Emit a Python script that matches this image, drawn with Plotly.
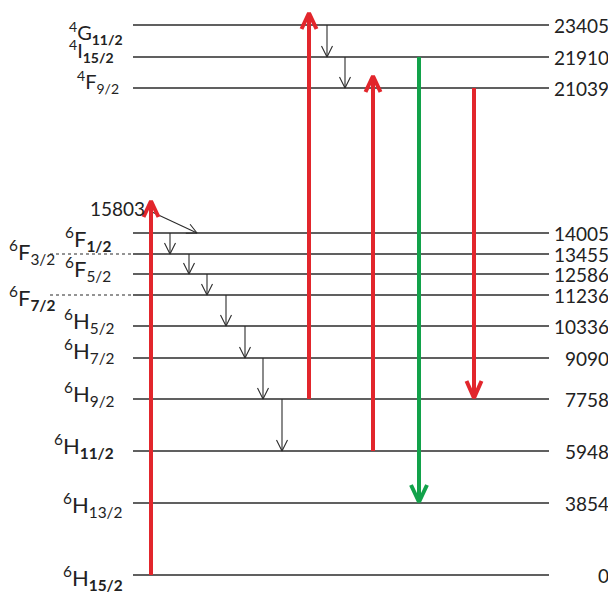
import plotly.graph_objects as go
import math

# ---- data ----
energies = [23405, 21910, 21039, 14005, 13455, 12586, 11236, 10336, 9090, 7758, 5948, 3854, 0]
terms = [
    "<sup>4</sup>G<sub><b>11/2</b></sub>",
    "<sup>4</sup>I<sub><b>15/2</b></sub>",
    "<sup>4</sup>F<sub>9/2</sub>",
    "<sup>6</sup>F<sub><b>1/2</b></sub>",
    "<sup>6</sup>F<sub>3/2</sub>",
    "<sup>6</sup>F<sub>5/2</sub>",
    "<sup>6</sup>F<sub><b>7/2</b></sub>",
    "<sup>6</sup>H<sub>5/2</sub>",
    "<sup>6</sup>H<sub>7/2</sub>",
    "<sup>6</sup>H<sub>9/2</sub>",
    "<sup>6</sup>H<sub><b>11/2</b></sub>",
    "<sup>6</sup>H<sub>13/2</sub>",
    "<sup>6</sup>H<sub><b>15/2</b></sub>",
]
# schematic (not-to-scale) heights of the levels in the diagram
level_height = [550, 518, 487, 342, 321, 301, 280, 249, 217, 176, 124, 72, 0]
virtual_level = 15803
virtual_height = 362

# transitions: (from energy, to energy)
excitations = [(0, 15803), (7758, 23405), (5948, 21039)]
green_emission = [(21910, 3854)]
red_emission = [(21039, 7758)]
relaxations = [(15803, 14005), (14005, 13455), (13455, 12586), (12586, 11236), (11236, 10336),
               (10336, 9090), (9090, 7758), (7758, 5948), (23405, 21910), (21910, 21039)]

# ---- layout constants ----
X0, X1 = 133, 549
dotted_levels = [13455, 11236]
label_x = [125, 116, 121, 113, 57, 113, 57, 117, 117, 117, 116, 125, 125]
label_dy = [-8, 6, 6, -6, 2, 5, -3, 5, 7, 5, 5, -2, -3]
exc_x = [151, 309, 373]
green_x = [419]
red_em_x = [474]
relax_x = [(152, 197), 170, 189, 207, 226, 245, 263, 282, 327, 345]
OVERSHOOT = 12
PAGE_MARGIN = 8  # default browser body margin

hmap = dict(zip(energies, level_height))
hmap[virtual_level] = virtual_height

RED = "#e2262c"
GREEN = "#12a24a"
BLACK = "#2b2b2b"


def arrow(xs, ys, xe, ye, L, W):
    dx, dy = xe - xs, ye - ys
    n = math.hypot(dx, dy)
    ux, uy = dx / n, dy / n
    px, py = -uy, ux
    shaft = [(xs, ys), (xe, ye), (None, None)]
    head = [(xe - L * ux + W * px, ye - L * uy + W * py), (xe, ye),
            (xe - L * ux - W * px, ye - L * uy - W * py), (None, None)]
    return shaft + head


fig = go.Figure()

# level lines
lx, ly = [], []
for e in energies:
    lx += [X0, X1, None]
    ly += [hmap[e], hmap[e], None]
fig.add_trace(go.Scatter(x=lx, y=ly, mode="lines", line=dict(color=BLACK, width=1.6), hoverinfo="skip"))

dx_, dy_ = [], []
for e in dotted_levels:
    dx_ += [50, X0, None]
    dy_ += [hmap[e], hmap[e], None]
fig.add_trace(go.Scatter(x=dx_, y=dy_, mode="lines", line=dict(color=BLACK, width=1.2, dash="dot"), hoverinfo="skip"))

# black relaxation arrows
bx, by = [], []
for (a, b), xv in zip(relaxations, relax_x):
    if isinstance(xv, tuple):
        pts = arrow(xv[0], hmap[a] + 1, xv[1], hmap[b], 10, 5)
    else:
        pts = arrow(xv, hmap[a], xv, hmap[b], 11, 5.5)
    bx += [p[0] for p in pts]
    by += [p[1] for p in pts]
fig.add_trace(go.Scatter(x=bx, y=by, mode="lines", line=dict(color=BLACK, width=1.1), hoverinfo="skip"))

# red arrows
rx, ry = [], []
for (a, b), xv in zip(excitations, exc_x):
    pts = arrow(xv, hmap[a], xv, hmap[b] + OVERSHOOT, 16, 7.5)
    rx += [p[0] for p in pts]
    ry += [p[1] for p in pts]
for (a, b), xv in zip(red_emission, red_em_x):
    pts = arrow(xv, hmap[a], xv, hmap[b] + 1, 17, 7.5)
    rx += [p[0] for p in pts]
    ry += [p[1] for p in pts]
fig.add_trace(go.Scatter(x=rx, y=ry, mode="lines", line=dict(color=RED, width=4), hoverinfo="skip"))

gx, gy = [], []
for (a, b), xv in zip(green_emission, green_x):
    pts = arrow(xv, hmap[a], xv, hmap[b] + 1, 17, 8)
    gx += [p[0] for p in pts]
    gy += [p[1] for p in pts]
fig.add_trace(go.Scatter(x=gx, y=gy, mode="lines", line=dict(color=GREEN, width=4), hoverinfo="skip"))

FONT = "Lato, 'Open Sans', sans-serif"
ann = []
for e, t, xv, dyv in zip(energies, terms, label_x, label_dy):
    size = 20 if t.startswith("<sup>4") else 22
    ann.append(dict(x=xv, y=hmap[e] + dyv, text=t, showarrow=False, xanchor="right", yanchor="middle",
                    font=dict(family=FONT, size=size, color="#222")))
    ann.append(dict(x=611, y=hmap[e], text=str(e), showarrow=False, xanchor="right", yanchor="middle",
                    font=dict(family=FONT, size=19, color="#222")))
ann.append(dict(x=147, y=virtual_height + 5, text=str(virtual_level), showarrow=False, xanchor="right",
                yanchor="middle", font=dict(family=FONT, size=19, color="#222")))

W, H = 616, 593
fig.update_layout(
    width=W - PAGE_MARGIN, height=H - PAGE_MARGIN, margin=dict(l=0, r=0, t=0, b=0),
    paper_bgcolor="white", plot_bgcolor="white", showlegend=False,
    xaxis=dict(range=[PAGE_MARGIN, W], visible=False, fixedrange=True),
    yaxis=dict(range=[-18, 575 - PAGE_MARGIN], visible=False, fixedrange=True),
    annotations=ann,
)
fig.write_html("out.html")
